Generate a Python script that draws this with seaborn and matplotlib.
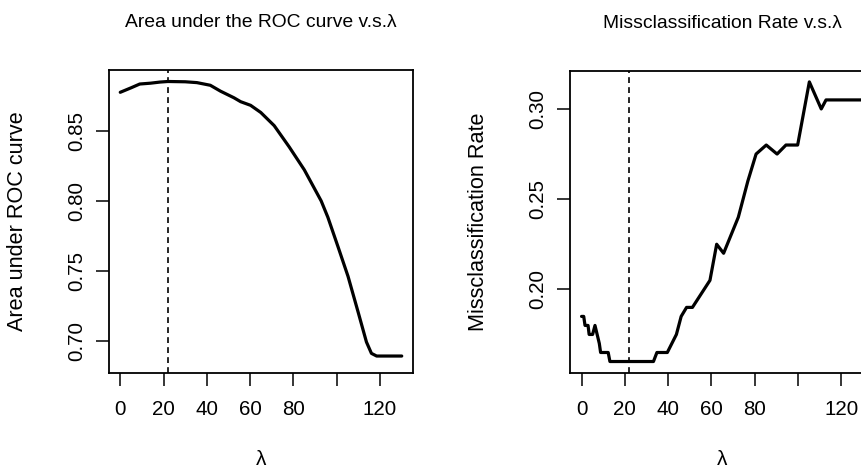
import matplotlib
matplotlib.use("Agg")
import matplotlib.pyplot as plt
import seaborn as sns
import pandas as pd

# ---- data ----
lam_auc = [0, 5, 9, 14, 18.4, 22, 30, 35.4, 41.6, 46.3, 52.5, 55.6, 60.2, 64.9, 71.1,
           78, 85, 92.8, 95.9, 100.6, 105.2, 109.9, 113.7, 116, 118.4, 130]
auc = [0.8773, 0.8805, 0.8832, 0.8838, 0.8846, 0.885, 0.8848, 0.8842, 0.8823, 0.8781,
       0.8734, 0.8706, 0.868, 0.8629, 0.8535, 0.8384, 0.822, 0.7998, 0.7881, 0.767,
       0.746, 0.7203, 0.6992, 0.6911, 0.6892, 0.6892]

lam_mr = [0, 1, 1.6, 3, 3.5, 5.1, 6.2, 7.2, 8.2, 8.8, 12.3, 13.1, 33.2, 34.8, 39.6,
          43.8, 46, 48.5, 51.2, 59.3, 62.4, 65.6, 72.4, 76.8, 80.6, 85.3, 90.3, 94.4,
          99.8, 105.2, 110.7, 112.9, 130]
mr = [0.185, 0.185, 0.180, 0.180, 0.175, 0.175, 0.180, 0.175, 0.170, 0.165, 0.165,
      0.160, 0.160, 0.165, 0.165, 0.175, 0.185, 0.190, 0.190, 0.205, 0.225, 0.220,
      0.240, 0.260, 0.275, 0.280, 0.275, 0.280, 0.280, 0.315, 0.300, 0.305, 0.305]

best_lambda = 22

x_ticks = [0, 20, 40, 60, 80, 100, 120]
x_ticklabels = ["0", "20", "40", "60", "80", "", "120"]
auc_ticks = [0.70, 0.75, 0.80, 0.85]
mr_ticks = [0.20, 0.25, 0.30]

titles = ["Area under the ROC curve v.s.\u03bb", "Missclassification Rate v.s.\u03bb"]
ylabels = ["Area under ROC curve", "Missclassification Rate"]
xlabel = "\u03bb"

# ---- style ----
sns.set_style("white")
plt.rcParams["font.family"] = ["Liberation Sans", "DejaVu Sans"]

W, H = 862, 476
fig = plt.figure(figsize=(W / 100, H / 100), dpi=100)

def px_axes(x0, x1, y0, y1):
    return fig.add_axes([x0 / W, 1 - y1 / H, (x1 - x0) / W, (y1 - y0) / H])

ax1 = px_axes(109, 413, 70, 373)
ax2 = px_axes(570.3, 874.3, 70.7, 372.7)

df_auc = pd.DataFrame({"lam": lam_auc, "val": auc})
df_mr = pd.DataFrame({"lam": lam_mr, "val": mr})

panels = [
    (ax1, df_auc, auc_ticks, (0.6771, 0.8932)),
    (ax2, df_mr, mr_ticks, (0.1538, 0.3212)),
]

for i, (ax, df, yt, ylim) in enumerate(panels):
    sns.lineplot(data=df, x="lam", y="val", ax=ax, color="black", linewidth=2.3,
                 estimator=None, sort=False)
    ax.axvline(best_lambda, color="black", linewidth=1.2, linestyle=(0, (3.5, 2.5)))
    ax.set_xlim(-5.2, 135.2)
    ax.set_ylim(*ylim)
    ax.set_xticks(x_ticks)
    ax.set_xticklabels(x_ticklabels)
    ax.set_yticks(yt)
    ax.set_yticklabels(["{:.2f}".format(v) for v in yt])
    ax.tick_params(axis="both", direction="out", length=9.4, width=1.1,
                   color="black", labelsize=14.8, labelcolor="black",
                   bottom=True, left=True, top=False, right=False)
    ax.tick_params(axis="x", pad=10)
    ax.tick_params(axis="y", pad=7, labelrotation=90)
    for lab in ax.get_yticklabels():
        lab.set_va("center")
    for sp in ax.spines.values():
        sp.set_visible(True)
        sp.set_color("black")
        sp.set_linewidth(1.3)
    ax.set_title(titles[i], fontsize=13.9, color="black", y=1.142, pad=0)
    ax.set_xlabel(xlabel, fontsize=15, color="black")
    ax.xaxis.set_label_coords(0.5, -0.255)
    ax.set_ylabel(ylabels[i], fontsize=15.6, color="black")
    ax.yaxis.set_label_coords(-0.266, 0.5)

fig.savefig("out.png", dpi=100)
